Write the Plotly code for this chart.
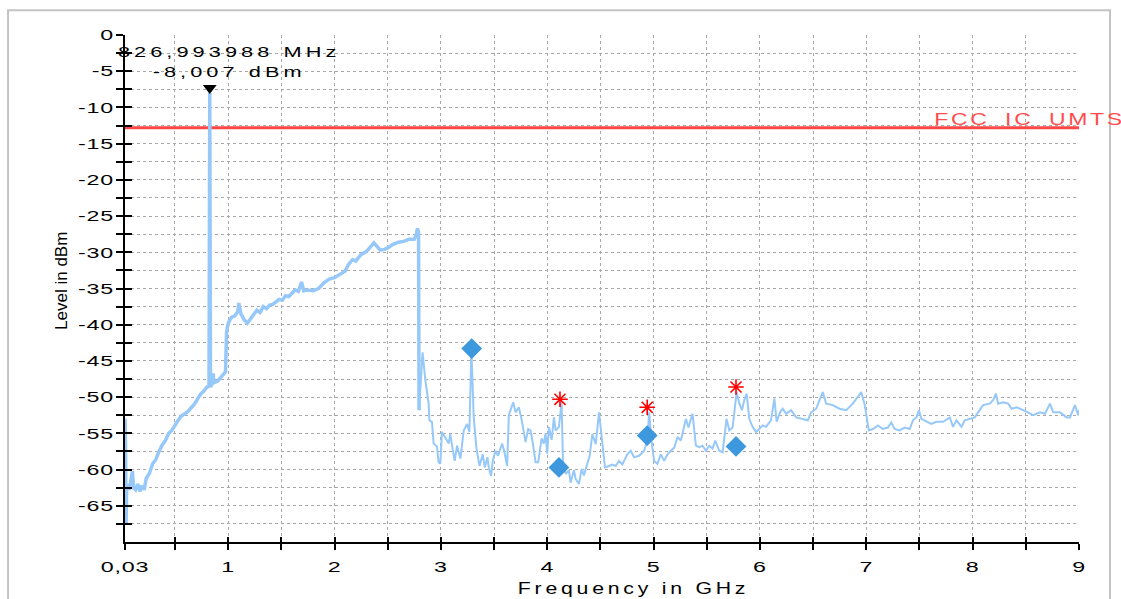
import plotly.graph_objects as go

# ---------------- data ----------------
freq_ghz = [
    0.03, 0.035, 0.04, 0.045, 0.055, 0.07, 0.085, 0.1, 0.11, 0.13, 0.15, 0.17, 0.19, 0.21, 0.23,
    0.26, 0.29, 0.32, 0.35, 0.38, 0.41, 0.44, 0.47, 0.5, 0.53, 0.56, 0.59, 0.62, 0.65, 0.68,
    0.71, 0.74, 0.77, 0.8, 0.82, 0.827, 0.834, 0.855, 0.86, 0.865, 0.9, 0.93, 0.96, 0.975, 0.985,
    1.0, 1.03, 1.06, 1.09, 1.1, 1.12, 1.15, 1.18, 1.21, 1.24, 1.27, 1.3, 1.33, 1.36, 1.39,
    1.42, 1.45, 1.48, 1.51, 1.54, 1.57, 1.6, 1.63, 1.66, 1.69, 1.71, 1.75, 1.8, 1.85, 1.9,
    1.95, 2.0, 2.05, 2.1, 2.13, 2.17, 2.2, 2.25, 2.3, 2.33, 2.37, 2.4, 2.43, 2.47, 2.5,
    2.55, 2.6, 2.65, 2.7, 2.75, 2.77, 2.78, 2.79, 2.795,
    2.828, 2.854, 2.885, 2.892, 2.916, 2.932, 2.963, 2.979, 2.995, 3.01, 3.042, 3.058, 3.073,
    3.089, 3.105, 3.13, 3.152, 3.184, 3.215, 3.246, 3.268, 3.287, 3.309, 3.334, 3.363, 3.394,
    3.413, 3.438, 3.45, 3.472, 3.488, 3.513, 3.538, 3.576, 3.598, 3.623, 3.639, 3.68, 3.702,
    3.733, 3.758, 3.796, 3.821, 3.843, 3.865, 3.89, 3.915, 3.947, 3.968, 3.984, 4.0, 4.016,
    4.041, 4.063, 4.079, 4.11, 4.135, 4.148, 4.173, 4.204, 4.22, 4.251, 4.267, 4.298, 4.324,
    4.345, 4.377, 4.399, 4.424, 4.456, 4.487, 4.518, 4.543, 4.581, 4.612, 4.644, 4.675, 4.706,
    4.753, 4.785, 4.817, 4.864, 4.911, 4.942, 4.958,
    4.983, 5.005, 5.036, 5.068, 5.099, 5.131, 5.162, 5.193, 5.225, 5.256, 5.272, 5.304, 5.328,
    5.366, 5.398, 5.429, 5.46, 5.492, 5.523, 5.554, 5.58, 5.617, 5.649, 5.686, 5.712, 5.743,
    5.781, 5.806, 5.831, 5.853, 5.875, 5.9, 5.931, 5.963, 5.994, 6.025, 6.057, 6.104, 6.136,
    6.157, 6.189, 6.214, 6.246, 6.293, 6.34, 6.402, 6.45, 6.481, 6.529, 6.56, 6.591, 6.623,
    6.685, 6.748, 6.811, 6.873, 6.92, 6.952, 6.983, 7.024, 7.062, 7.109,
    7.156, 7.203, 7.235, 7.266, 7.313, 7.361, 7.408, 7.439, 7.471, 7.495, 7.518, 7.565, 7.612,
    7.659, 7.722, 7.785, 7.816, 7.848, 7.895, 7.926, 7.973, 8.02, 8.051, 8.098, 8.161, 8.193,
    8.218, 8.24, 8.287, 8.334, 8.366, 8.413, 8.476, 8.523, 8.57, 8.633, 8.68, 8.727, 8.758,
    8.821, 8.884, 8.915, 8.962, 8.993, 9.0,
]

level_dbm = [
    -53.0, -56.5, -67.5, -63.0, -62.0, -62.8, -61.5, -60.2, -62.5, -62.8, -62.0, -63.0, -62.2, -62.8, -61.2,
    -60.5, -59.2, -58.6, -57.5, -56.6, -56.0, -55.0, -54.6, -53.8, -53.2, -52.6, -52.3, -52.0, -51.5, -51.0,
    -50.3, -49.6, -49.2, -48.6, -48.5, -8.007, -48.6, -48.0, -46.7, -48.0, -47.8, -47.3, -46.8, -46.5, -41.0,
    -39.8, -39.0, -38.8, -38.2, -37.0, -38.5, -39.3, -39.8, -39.2, -38.5, -38.0, -38.3, -37.5, -37.8, -37.3,
    -37.2, -36.8, -36.5, -36.6, -36.0, -36.1, -35.6, -35.2, -35.4, -34.1, -35.3, -35.2, -35.3, -35.0, -34.2,
    -33.7, -33.5, -33.0, -32.6, -31.7, -31.0, -31.2, -30.3, -29.9, -29.3, -28.7, -29.2, -29.7, -29.6, -29.4,
    -28.9, -28.6, -28.5, -28.2, -28.2, -27.5, -26.7, -27.2, -51.8,
    -43.8, -47.7, -50.9, -53.2, -53.4, -56.4, -56.8, -59.0, -59.2, -54.8, -55.5, -56.0, -56.4,
    -55.1, -56.7, -58.8, -56.7, -58.5, -54.6, -53.7, -54.8, -43.5, -52.8, -57.0, -59.5, -57.9,
    -59.7, -58.3, -59.7, -60.9, -58.8, -57.4, -58.1, -56.4, -57.6, -59.5, -52.5, -50.7, -52.1,
    -51.4, -53.0, -56.2, -54.4, -54.6, -56.4, -59.0, -59.0, -55.7, -56.4, -55.0, -57.8, -54.1,
    -55.9, -52.8, -54.6, -54.1, -50.7, -58.8, -60.6, -60.1, -61.8, -60.1, -61.3, -62.0, -59.9,
    -60.8, -59.2, -58.1, -55.1, -56.5, -52.1, -56.0, -59.7, -59.5, -59.3, -59.5, -58.8, -59.3,
    -57.9, -57.4, -58.3, -58.1, -57.4, -56.0, -52.1,
    -56.4, -58.8, -59.2, -57.9, -58.8, -57.9, -57.4, -57.0, -55.5, -56.0, -55.0, -53.0, -54.2,
    -52.3, -56.7, -56.9, -56.7, -57.4, -56.7, -57.1, -56.0, -57.4, -57.6, -53.0, -54.6, -54.2,
    -49.3, -50.9, -51.8, -50.4, -49.5, -53.0, -54.1, -54.8, -54.4, -53.9, -54.1, -53.2, -50.2,
    -53.4, -52.1, -51.6, -52.3, -51.8, -52.8, -53.0, -53.2, -52.1, -51.6, -50.4, -49.3, -50.9,
    -51.1, -51.6, -51.8, -50.9, -50.0, -49.3, -50.9, -54.6, -54.4, -53.9,
    -54.4, -54.2, -53.5, -54.4, -54.6, -54.2, -54.4, -53.2, -52.8, -51.8, -53.0, -53.4, -53.7,
    -53.4, -53.4, -52.8, -54.1, -53.2, -54.1, -53.2, -53.0, -52.8, -52.1, -51.1, -50.9, -50.4,
    -49.5, -50.9, -50.7, -50.9, -51.6, -51.4, -51.8, -52.1, -52.5, -52.1, -52.3, -50.9, -52.1,
    -52.1, -52.8, -52.8, -51.1, -52.5, -51.8,
]

# the dense (noisy) part of the sweep ends at this frequency
dense_end_ghz = 2.795

limit_name = "FCC_IC_UMTS"
limit_freq = [0.03, 9.0]
limit_level = [-12.8, -12.8]

marker_freq = [0.826993988]
marker_level = [-8.007]
marker_label = "826,993988 MHz<br>-8,007 dBm"

diamond_freq = [3.29, 4.11, 4.94, 5.775]
diamond_level = [-43.3, -59.7, -55.3, -56.8]

star_freq = [4.12, 4.94, 5.775]
star_level = [-50.3, -51.4, -48.6]

x_tickvals = [0.03, 0.5, 1, 1.5, 2, 2.5, 3, 3.5, 4, 4.5, 5, 5.5, 6, 6.5, 7, 7.5, 8, 8.5, 9]
x_ticktext = ["0,03", "", "1", "", "2", "", "3", "", "4", "", "5", "", "6", "", "7", "", "8", "", "9"]
y_tickvals = [-2.5 * i for i in range(28)]
y_ticktext = [("%d" % v) if v % 5 == 0 else "" for v in y_tickvals]

x_title = "Frequency in GHz"
y_title = "Level in dBm"

# ---------------- figure ----------------
FONT = "Liberation Sans, Arial, sans-serif"
TRACE = "#96c8fa"

k = freq_ghz.index(dense_end_ghz)

fig = go.Figure()

fig.add_trace(go.Scatter(
    x=limit_freq, y=limit_level, mode="lines",
    line=dict(color="#ff4646", width=3), name=limit_name, hoverinfo="skip"))

fig.add_trace(go.Scatter(
    x=freq_ghz[:k + 1], y=level_dbm[:k + 1], mode="lines",
    line=dict(color=TRACE, width=3.5), name="Level"))
fig.add_trace(go.Scatter(
    x=freq_ghz[k:], y=level_dbm[k:], mode="lines",
    line=dict(color=TRACE, width=2), name="Level", showlegend=False))

fig.add_trace(go.Scatter(
    x=diamond_freq, y=diamond_level, mode="markers",
    marker=dict(symbol="diamond", size=16, color="#3d98de", line=dict(width=0)),
    name="Final"))

fig.add_trace(go.Scatter(
    x=star_freq, y=star_level, mode="markers",
    marker=dict(symbol="asterisk-open", size=13, color="#ff0000",
                line=dict(color="#ff0000", width=1.6)),
    name="Peaks"))

# marker triangle sitting on top of the peak
fig.add_trace(go.Scatter(
    x=marker_freq, y=marker_level, mode="markers",
    marker=dict(symbol="triangle-up", angle=180, standoff=5, size=12, color="black"),
    name="Marker", hoverinfo="skip"))

# overlay axes for the inner half of the crossing tick marks
fig.add_trace(go.Scatter(x=[None], y=[None], xaxis="x2", yaxis="y2",
                         showlegend=False, hoverinfo="skip"))

xr = [0.03, 9.0]
yr = [-70, 0]

fig.update_layout(
    width=1121, height=599, autosize=False,
    margin=dict(l=125, r=42, t=35, b=57),
    paper_bgcolor="white", plot_bgcolor="white",
    showlegend=False,
    font=dict(family=FONT, size=15, color="black"),
    xaxis=dict(
        range=xr, tickmode="array", tickvals=x_tickvals, ticktext=x_ticktext,
        showline=True, linecolor="black", linewidth=2,
        ticks="outside", ticklen=6, tickwidth=1.5, tickcolor="black",
        showgrid=True, gridcolor="#a8a8a8", gridwidth=1, griddash="dot",
        zeroline=False, ticklabelstandoff=4,
        tickfont=dict(family=FONT, size=15, color="black"),
    ),
    yaxis=dict(
        range=yr, tickmode="array", tickvals=y_tickvals, ticktext=y_ticktext,
        showline=True, linecolor="black", linewidth=2,
        ticks="outside", ticklen=7, tickwidth=1.5, tickcolor="black",
        showgrid=True, gridcolor="#a8a8a8", gridwidth=1, griddash="dot",
        zeroline=False, ticklabelstandoff=-1,
        tickfont=dict(family=FONT, size=15, color="black"),
    ),
    xaxis2=dict(
        range=xr, overlaying="x", anchor="y", side="bottom",
        tickmode="array", tickvals=x_tickvals, showticklabels=False,
        ticks="inside", ticklen=5, tickwidth=1.5, tickcolor="black",
        showgrid=False, showline=False, zeroline=False,
    ),
    yaxis2=dict(
        range=yr, overlaying="y", anchor="x", side="left",
        tickmode="array", tickvals=y_tickvals, showticklabels=False,
        ticks="inside", ticklen=7, tickwidth=1.5, tickcolor="black",
        showgrid=False, showline=False, zeroline=False,
    ),
)

# outer frame
fig.add_shape(type="rect", xref="paper", yref="paper",
              x0=-0.1226, x1=1.0325, y0=-0.14, y1=1.049,
              line=dict(color="#c4c4c4", width=2), fillcolor="rgba(0,0,0,0)", layer="below")

# annotations
fig.add_annotation(  # 0 marker label
    x=marker_freq[0], y=marker_level[0], xref="x", yref="y", text=marker_label,
    showarrow=False, xanchor="center", yanchor="bottom", xshift=19, yshift=11,
    font=dict(family=FONT, size=15, color="black"), align="center")
fig.add_annotation(  # 1 limit label
    x=0.9486, y=limit_level[-1], xref="paper", yref="y", text=limit_name,
    showarrow=False, xanchor="center", yanchor="middle", yshift=8,
    font=dict(family=FONT, size=17, color="#ff4d4d"))
fig.add_annotation(  # 2 x title
    x=0.5325, y=-0.0927, xref="paper", yref="paper", text=x_title,
    showarrow=False, xanchor="center", yanchor="middle",
    font=dict(family=FONT, size=17, color="black"))
fig.add_annotation(  # 3 y title
    x=-0.066, y=0.515, xref="paper", yref="paper", text=y_title, textangle=-90,
    showarrow=False, xanchor="center", yanchor="middle",
    font=dict(family=FONT, size=17, color="black"))

# The reference renders its labels with horizontally widened, spaced glyphs;
# widen the rendered SVG text (text content unchanged).
post = """
document.body.style.margin='0';
document.body.style.overflow='hidden';
function widen(sel, ls, f){
  document.querySelectorAll(sel).forEach(function(t){
    t.style.letterSpacing = ls + 'px';
    var parts = t.querySelectorAll('tspan.line');
    var list = parts.length ? Array.prototype.slice.call(parts) : [t];
    list.forEach(function(e){
      var w = e.getComputedTextLength();
      if (w > 0) { e.setAttribute('textLength', (w*f).toFixed(1)); e.setAttribute('lengthAdjust','spacingAndGlyphs'); }
    });
  });
}
widen('.xtick text', 0.5, 1.55);
widen('.ytick text', 0.5, 1.55);
widen('.annotation[data-index="0"] text', 2.8, 1.45);
widen('.annotation[data-index="1"] text', 2.0, 1.35);
widen('.annotation[data-index="2"] text', 3.0, 1.25);
"""

fig.write_html("out.html", post_script=post, config={"displayModeBar": False})
